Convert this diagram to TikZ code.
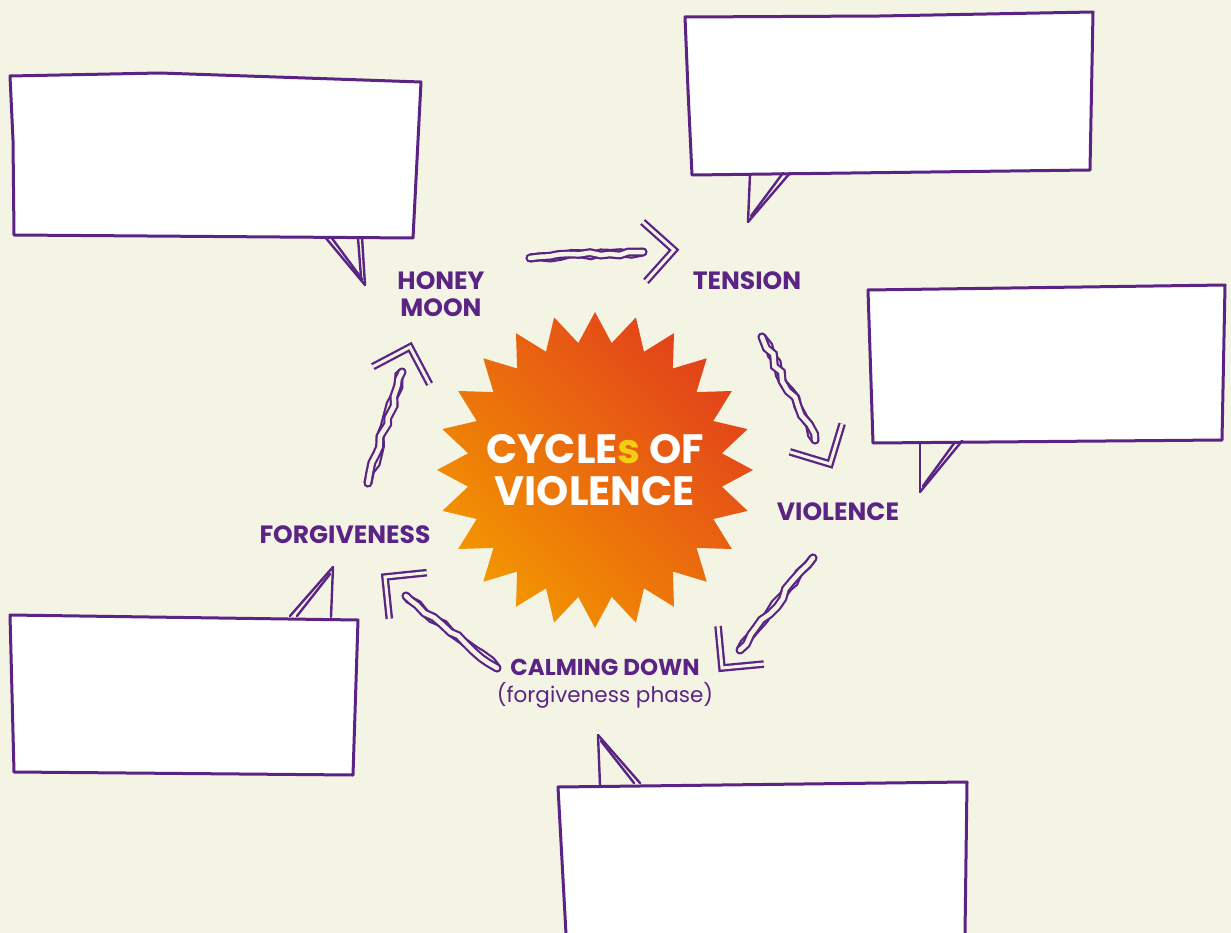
\documentclass[tikz,border=0pt]{standalone}
\usepackage{fontspec}
\setmainfont{Poppins}
\usepackage{tikz}
\usetikzlibrary{
  calc,
  decorations.pathmorphing
}

\definecolor{bgcream}{HTML}{F4F4E5}
\definecolor{vio}{HTML}{5B2484}
\definecolor{burstred}{HTML}{E2411A}
\definecolor{burstorange}{HTML}{F39600}
\definecolor{sunyellow}{HTML}{F4CE12}

% hand drawn arrow: shaft start, shaft end, head tip
\newcommand{\cyclearrow}[3]{%
  \draw[shaft] (#1) -- (#2);
  \draw[shaft, xshift=1.8pt, yshift=1.5pt] (#1) -- (#2);
  \draw[head] ($(#3)!42pt!45:(#1)$) -- (#3) -- ($(#3)!42pt!-45:(#1)$);
}

\begin{document}
\begin{tikzpicture}[x=1pt, y=-1pt,
    callout/.style={draw=vio, fill=white, line width=3pt, line join=round},
    tail/.style={draw=vio, line width=2.4pt, line cap=round},
    shaft/.style={draw=vio, line width=2.2pt, double=bgcream, double distance=4.5pt,
      line cap=round, decorate, decoration={random steps, segment length=10pt, amplitude=2.4pt}},
    head/.style={draw=vio, line width=2.3pt, double=bgcream, double distance=3pt},
    lbl/.style={text=vio, font=\bfseries\fontsize{25}{27}\selectfont, align=center, inner sep=0pt}]
    \pgfmathsetseed{7}
    \useasboundingbox (0,0) rectangle (1231,933);
    \fill[bgcream] (0,0) rectangle (1231,933);

    % Box 1: top left
    \filldraw[callout] (10,76) -- (160,73) -- (421,82) -- (413,238) -- (14,235) -- (13,140) -- cycle;
    \draw[tail] (325,237) -- (365,285);
    \draw[tail] (331,237) -- (362,279);
    \draw[tail] (362,237) -- (365,285);
    \draw[tail] (358,238) -- (361,277);

    % Box 2: top right
    \filldraw[callout] (685,17) -- (880,16) -- (1093,12) -- (1090,170) -- (692,175) -- (688,90) -- cycle;
    \draw[tail] (750,174) -- (748,222);
    \draw[tail] (790,173) -- (748,222);
    \draw[tail] (783,173) -- (751,216);

    % Box 3: right
    \filldraw[callout] (868,290) -- (1225,285) -- (1222,440) -- (873,443) -- cycle;
    \draw[tail] (920,443) -- (920,492);
    \draw[tail] (962,441) -- (920,492);
    \draw[tail] (955,442) -- (923,486);

    % Box 4: bottom left
    \filldraw[callout] (10,615) -- (358,620) -- (353,775) -- (14,772) -- cycle;
    \draw[tail] (290,616) -- (333,567);
    \draw[tail] (297,616) -- (330,574);
    \draw[tail] (331,617) -- (333,567);

    % Box 5: bottom
    \fill[white] (558,787) -- (967,782) -- (965,934) -- (566,934) -- cycle;
    \draw[callout, fill=none] (566,934) -- (558,787) -- (967,782) -- (965,934);
    \draw[tail] (600,785) -- (598,735);
    \draw[tail] (640,783) -- (598,735);
    \draw[tail] (634,783) -- (601,741);

    % Star in the middle, 24 points
    \shade[shift={(595,470)}, top color=burstred, bottom color=burstorange, shading angle=-45]
      (90:158) \foreach \i in {0,...,23} { -- ({97.5+15*\i}:128) -- ({105+15*\i}:158) } -- cycle;
    \node[text=white, font=\bfseries\fontsize{41}{42}\selectfont, align=center]
      (core) at (595,470) {CYCLE\textcolor{sunyellow}{s} OF\\VIOLENCE};

    % Phase labels
    \node[lbl] (honey) at (441,294) {HONEY\\MOON};
    \node[lbl] (tension) at (747,281) {TENSION};
    \node[lbl] (violence) at (838,512) {VIOLENCE};
    \node[lbl] (forgive) at (345,535) {FORGIVENESS};
    \node[lbl, font=\bfseries\fontsize{23}{24}\selectfont] (calming) at (605,667) {CALMING DOWN};
    \node[text=vio, font=\fontsize{21.5}{23}\selectfont, inner sep=0pt] (phase) at (605,695) {(forgiveness phase)};

    % Arrow ends
    \coordinate (a1s) at (530,258); \coordinate (a1e) at (643,252); \coordinate (a1t) at (674,250);
    \coordinate (a2s) at (762,337); \coordinate (a2e) at (815,440); \coordinate (a2t) at (830,464);
    \coordinate (a3s) at (813,558); \coordinate (a3e) at (740,650); \coordinate (a3t) at (722,668);
    \coordinate (a4s) at (497,668); \coordinate (a4e) at (406,596); \coordinate (a4t) at (385,577);
    \coordinate (a5s) at (368,483); \coordinate (a5e) at (402,372); \coordinate (a5t) at (410,347);

    % Arrows round the cycle
    \cyclearrow{a1s}{a1e}{a1t}
    \cyclearrow{a2s}{a2e}{a2t}
    \cyclearrow{a3s}{a3e}{a3t}
    \cyclearrow{a4s}{a4e}{a4t}
    \cyclearrow{a5s}{a5e}{a5t}
\end{tikzpicture}
\end{document}
